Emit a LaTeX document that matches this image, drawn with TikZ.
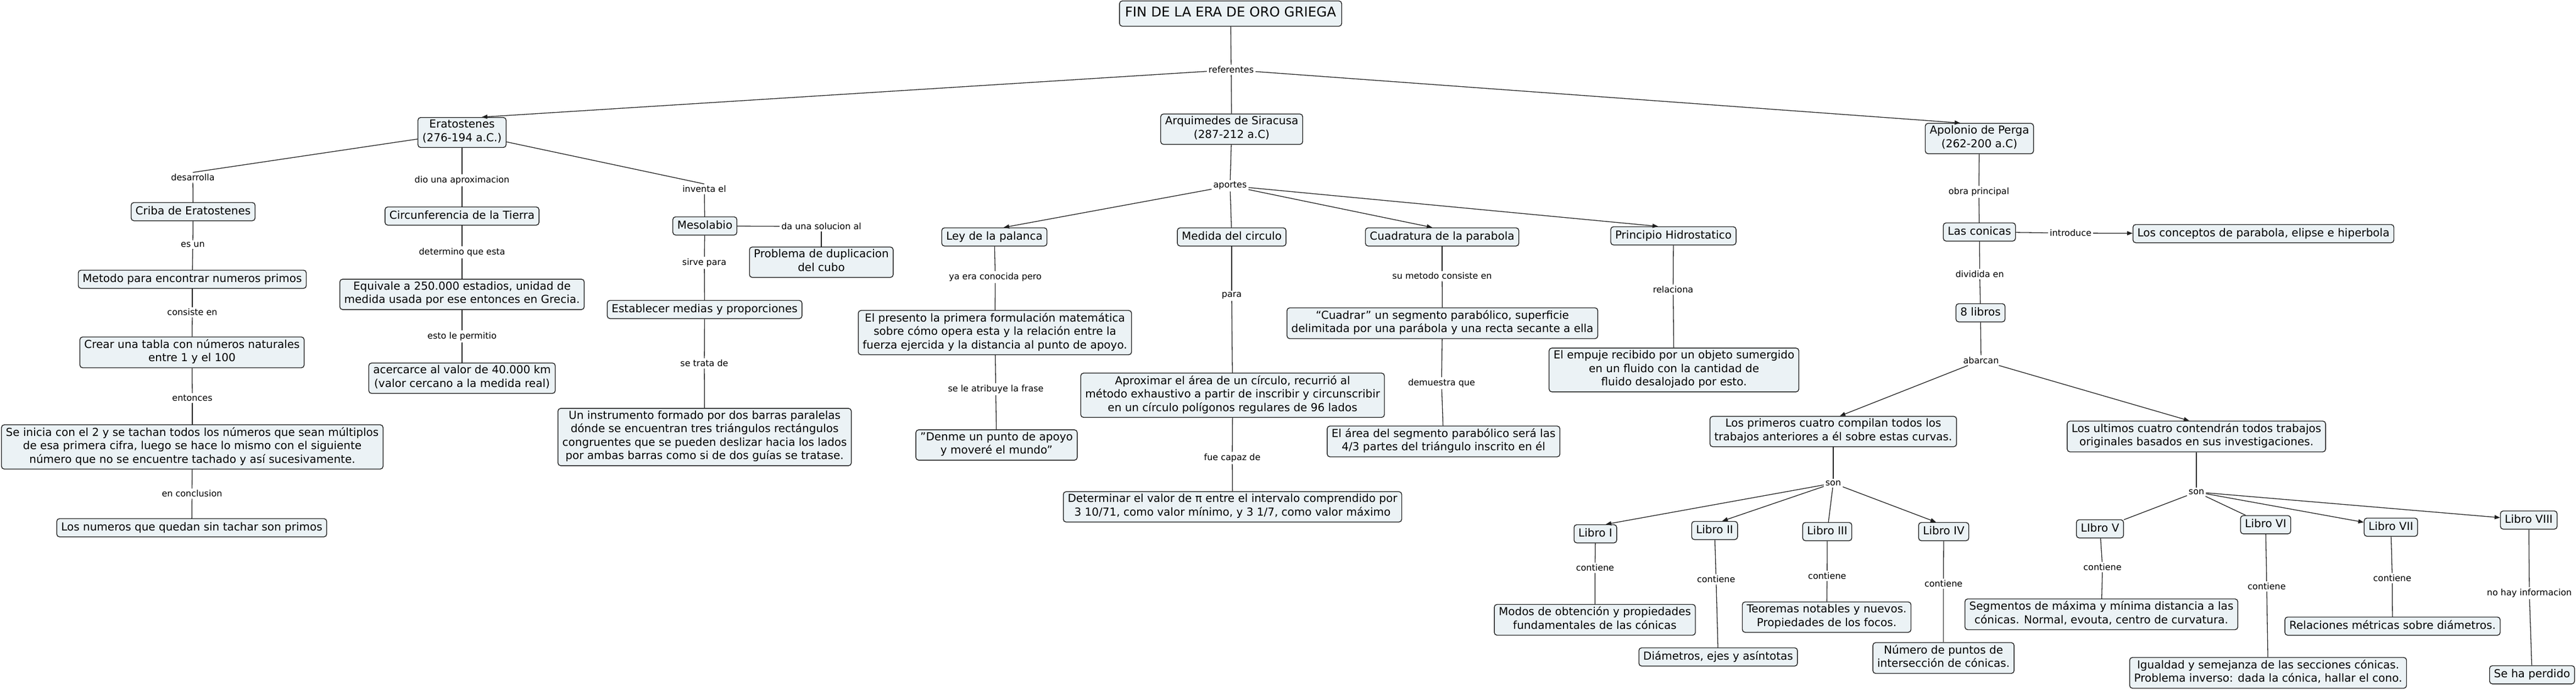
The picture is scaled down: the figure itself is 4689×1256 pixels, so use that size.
\documentclass[tikz,border=0pt]{standalone}
\usepackage{fontspec}
\setmainfont{DejaVu Sans}
\usetikzlibrary{arrows.meta}
\definecolor{boxfill}{RGB}{235,242,245}
\definecolor{inkc}{RGB}{30,30,30}
\newcommand\nfont{\fontsize{20}{24.5}\selectfont}
\newcommand\lfont{\fontsize{16}{19}\selectfont}
\newcommand\tfont{\fontsize{24.5}{30}\selectfont}
\newcommand\bstrut{\rule[-6.9pt]{0pt}{24.5pt}}
\tikzset{
  box/.style={draw=inkc, line width=1.4pt, fill=boxfill, rounded corners=5pt, align=center,
    font=\nfont, inner xsep=8pt, inner ysep=4.3pt,
    execute at begin node=\bstrut, execute at end node=\bstrut},
  titlebox/.style={box, font=\tfont, inner xsep=10pt, minimum height=46pt},
  lbl/.style={fill=white, font=\lfont, inner sep=3pt},
  con/.style={line width=1.3pt, draw=inkc},
  arr/.style={con, -{Triangle[length=10pt,width=7.5pt]}}
}
\begin{document}
\begin{tikzpicture}[x=1pt,y=-1pt]
\useasboundingbox (0,0) rectangle (4689,1256);
% ---------- top
\node[titlebox] (title) at (2240,24.7) {FIN DE LA ERA DE ORO GRIEGA};
\node[lbl] (ref) at (2241,127) {referentes};
\node[box] (erat) at (841,241) {Eratostenes\\(276-194 a.C.)};
\node[box] (arq) at (2242,235) {Arquimedes de Siracusa\\(287-212 a.C)};
\node[box] (apol) at (3603,252) {Apolonio de Perga\\(262-200 a.C)};
% ---------- Eratostenes
\node[lbl] (desa) at (351,323) {desarrolla};
\node[box] (criba) at (351.5,385) {Criba de Eratostenes};
\node[lbl] (esun) at (351,445) {es un};
\node[box] (metodo) at (350,508) {Metodo para encontrar numeros primos};
\node[lbl] (consis) at (350,568) {consiste en};
\node[box] (crear) at (349.5,641) {Crear una tabla con números naturales\\entre 1 y el 100};
\node[lbl] (entonces) at (350,724) {entonces};
\node[box] (seinicia) at (350,813) {Se inicia con el 2 y se tachan todos los números que sean múltiplos\\de esa primera cifra, luego se hace lo mismo con el siguiente\\número que no se encuentre tachado y así sucesivamente.};
\node[lbl] (enconcl) at (349.5,898) {en conclusion};
\node[box] (losnum) at (349,960) {Los numeros que quedan sin tachar son primos};
\node[lbl] (dio) at (841,328) {dio una aproximacion};
\node[box] (circ) at (841,393) {Circunferencia de la Tierra};
\node[lbl] (determino) at (841,459) {determino que esta};
\node[box] (equiv) at (841,535.5) {Equivale a 250.000 estadios, unidad de\\medida usada por ese entonces en Grecia.};
\node[lbl] (esto) at (841,612) {esto le permitio};
\node[box] (acerc) at (841,688) {acercarce al valor de 40.000 km\\(valor cercano a la medida real)};
\node[lbl] (inventa) at (1282,344) {inventa el};
\node[box] (meso) at (1283,411) {Mesolabio};
\node[lbl] (dasol) at (1495,412) {da una solucion al};
\node[box] (prob) at (1495,477) {Problema de duplicacion\\del cubo};
\node[lbl] (sirve) at (1282,478) {sirve para};
\node[box] (estab) at (1282.6,563) {Establecer medias y proporciones};
\node[lbl] (setrata) at (1282,661) {se trata de};
\node[box] (instr) at (1282.6,795) {Un instrumento formado por dos barras paralelas\\dónde se encuentran tres triángulos rectángulos\\congruentes que se pueden deslizar hacia los lados\\por ambas barras como si de dos guías se tratase.};
% ---------- Arquimedes
\node[lbl] (aportes) at (2239,338) {aportes};
\node[box] (ley) at (1810,431) {Ley de la palanca};
\node[box] (medida) at (2242,431) {Medida del circulo};
\node[box] (cuad) at (2625,431) {Cuadratura de la parabola};
\node[box] (prin) at (3046,429) {Principio Hidrostatico};
\node[lbl] (yaera) at (1811.6,504) {ya era conocida pero};
\node[box] (presento) at (1811,605) {El presento la primera formulación matemática\\sobre cómo opera esta y la relación entre la\\fuerza ejercida y la distancia al punto de apoyo.};
\node[lbl] (atrib) at (1812.5,708) {se le atribuye la frase};
\node[box] (denme) at (1814,809.5) {"Denme un punto de apoyo\\y moveré el mundo"};
\node[lbl] (para) at (2242,538) {para};
\node[box] (aprox) at (2243.6,719) {Aproximar el área de un círculo, recurrió al\\método exhaustivo a partir de inscribir y circunscribir\\en un círculo polígonos regulares de 96 lados};
\node[lbl] (capaz) at (2243,833) {fue capaz de};
\node[box] (determ) at (2243.5,922) {Determinar el valor de π entre el intervalo comprendido por\\3 10/71, como valor mínimo, y 3 1/7, como valor máximo};
\node[lbl] (sumet) at (2625,502) {su metodo consiste en};
\node[box] (cuadrar) at (2625.5,588) {“Cuadrar” un segmento parabólico, superficie\\delimitada por una parábola y una recta secante a ella};
\node[lbl] (demues) at (2624,697) {demuestra que};
\node[box] (elarea) at (2627.6,803) {El área del segmento parabólico será las\\4/3 partes del triángulo inscrito en él};
\node[lbl] (relaciona) at (3045.5,527) {relaciona};
\node[box] (empuje) at (3047,673) {El empuje recibido por un objeto sumergido\\en un fluido con la cantidad de\\fluido desalojado por esto.};
% ---------- Apolonio
\node[lbl] (obra) at (3602,349) {obra principal};
\node[box] (conicas) at (3603,422) {Las conicas};
\node[lbl] (introd) at (3769,424) {introduce};
\node[box] (concep) at (4120,425) {Los conceptos de parabola, elipse e hiperbola};
\node[lbl] (divid) at (3603.6,498.6) {dividida en};
\node[box] (libros) at (3605,569) {8 libros};
\node[lbl] (abarcan) at (3606,655.4) {abarcan};
\node[box] (primeros) at (3337,785) {Los primeros cuatro compilan todos los\\trabajos anteriores a él sobre estas curvas.};
\node[box] (ultimos) at (3998,794) {Los ultimos cuatro contendrán todos trabajos\\originales basados en sus investigaciones.};
\node[lbl] (sonA) at (3337,879) {son};
\node[lbl] (sonB) at (3998,895) {son};
\node[box] (l1) at (2904,971) {Libro I};
\node[box] (l2) at (3121,965) {Libro II};
\node[box] (l3) at (3326,967) {Libro III};
\node[box] (l4) at (3538,967) {Libro IV};
\node[box] (l5) at (3822.5,962) {LIbro V};
\node[box] (l6) at (4124,954.5) {Libro VI};
\node[box] (l7) at (4352,959) {Libro VII};
\node[box] (l8) at (4603,946) {Libro VIII};
\node[lbl] (c1) at (2903.4,1033) {contiene};
\node[lbl] (c2) at (3123.7,1054) {contiene};
\node[lbl] (c3) at (3325.8,1047.7) {contiene};
\node[lbl] (c4) at (3537.6,1062) {contiene};
\node[lbl] (c5) at (3827,1031.7) {contiene};
\node[lbl] (c6) at (4126,1066.7) {contiene};
\node[lbl] (c7) at (4354.5,1051.7) {contiene};
\node[lbl] (c8) at (4604,1079) {no hay informacion};
\node[box] (modos) at (2903,1127.5) {Modos de obtención y propiedades\\fundamentales de las cónicas};
\node[box] (diam) at (3127.5,1195) {Diámetros, ejes y asíntotas};
\node[box] (teor) at (3325,1122.6) {Teoremas notables y nuevos.\\Propiedades de los focos.};
\node[box] (numero) at (3537.6,1197) {Número de puntos de\\intersección de cónicas.};
\node[box] (segm) at (3825,1117.5) {Segmentos de máxima y mínima distancia a las\\cónicas. Normal, evouta, centro de curvatura.};
\node[box] (igual) at (4128.5,1224) {Igualdad y semejanza de las secciones cónicas.\\Problema inverso: dada la cónica, hallar el cono.};
\node[box] (relac) at (4355,1139) {Relaciones métricas sobre diámetros.};
\node[box] (perdido) at (4609,1227.5) {Se ha perdido};
% ---------- connectors
\draw[con] (title) -- (ref);
\draw[arr] (ref) -- ([xshift=36pt]erat.north);
\draw[con] (ref) -- (arq);
\draw[arr] (ref) -- ([xshift=-35pt]apol.north);
\draw[con] (erat) -- (desa.north);
\draw[con] (desa) -- (criba);
\draw[con] (criba) -- (esun);
\draw[con] (esun) -- (metodo);
\draw[con] (metodo) -- (consis);
\draw[con] (consis) -- (crear);
\draw[con] (crear) -- (entonces);
\draw[con] (entonces) -- (seinicia);
\draw[con] (seinicia) -- (enconcl);
\draw[con] (enconcl) -- (losnum);
\draw[con] (erat) -- (dio);
\draw[con] (dio) -- (circ);
\draw[con] (circ) -- (determino);
\draw[con] (determino) -- (equiv);
\draw[con] (equiv) -- (esto);
\draw[con] (esto) -- (acerc);
\draw[con] (erat) -- (inventa.north);
\draw[con] (inventa) -- (meso);
\draw[con] (meso) -- (dasol);
\draw[con] (dasol) -- (prob);
\draw[con] (meso) -- (sirve);
\draw[con] (sirve) -- (estab);
\draw[con] (estab) -- (setrata);
\draw[con] (setrata) -- (instr);
\draw[con] (arq) -- (aportes);
\draw[arr] (aportes) -- ([xshift=17pt]ley.north);
\draw[con] (aportes) -- (medida);
\draw[arr] (aportes) -- ([xshift=-18pt]cuad.north);
\draw[arr] (aportes) -- ([xshift=-28pt]prin.north);
\draw[con] (ley) -- (yaera);
\draw[con] (yaera) -- (presento);
\draw[con] (presento) -- (atrib);
\draw[con] (atrib) -- (denme);
\draw[con] (medida) -- (para);
\draw[con] (para) -- (aprox);
\draw[con] (aprox) -- (capaz);
\draw[con] (capaz) -- (determ);
\draw[con] (cuad) -- (sumet);
\draw[con] (sumet) -- (cuadrar);
\draw[con] (cuadrar) -- (demues);
\draw[con] (demues) -- (elarea);
\draw[con] (prin) -- (relaciona);
\draw[con] (relaciona) -- (empuje);
\draw[con] (apol) -- (obra);
\draw[con] (obra) -- (conicas);
\draw[con] (conicas) -- (introd);
\draw[arr] (introd) -- (concep);
\draw[con] (conicas) -- (divid);
\draw[con] (divid) -- (libros);
\draw[con] (libros) -- (abarcan);
\draw[arr] (abarcan) -- ([xshift=12pt]primeros.north);
\draw[arr] (abarcan) -- ([xshift=-13pt]ultimos.north);
\draw[con] (primeros) -- (sonA);
\draw[con] (ultimos) -- (sonB);
\draw[arr] (sonA) -- ([xshift=19pt]l1.north);
\draw[arr] (sonA) -- ([xshift=14pt]l2.north);
\draw[con] (sonA) -- (l3);
\draw[arr] (sonA) -- ([xshift=-14pt]l4.north);
\draw[con] (sonB) -- (l5);
\draw[con] (sonB) -- (l6);
\draw[arr] (sonB) -- (l7);
\draw[arr] (sonB) -- (l8);
\draw[con] (l1) -- (c1);
\draw[con] (c1) -- (modos);
\draw[con] (l2) -- (c2);
\draw[con] (c2) -- (diam);
\draw[con] (l3) -- (c3);
\draw[con] (c3) -- (teor);
\draw[con] (l4) -- (c4);
\draw[con] (c4) -- (numero);
\draw[con] (l5) -- (c5);
\draw[con] (c5) -- (segm);
\draw[con] (l6) -- (c6);
\draw[con] (c6) -- (igual);
\draw[con] (l7) -- (c7);
\draw[con] (c7) -- (relac);
\draw[con] (l8) -- (c8);
\draw[con] (c8) -- (perdido);
\end{tikzpicture}
\end{document}
